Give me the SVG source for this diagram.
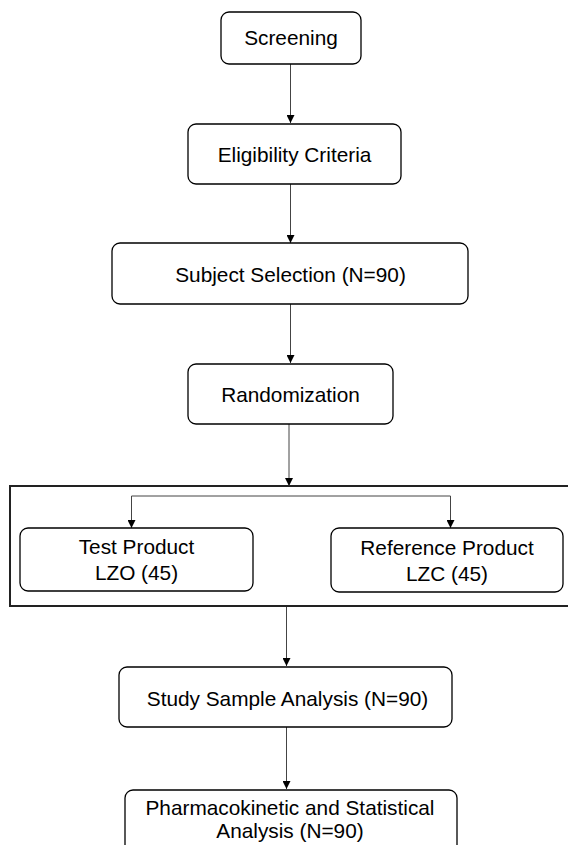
<svg xmlns="http://www.w3.org/2000/svg" width="568" height="845" viewBox="0 0 568 845">
<defs>
<style>
.box{fill:#fff;stroke:#000;stroke-width:1.3}
.lbl{font-family:"Liberation Sans",Arial,sans-serif;font-size:20.8px;fill:#000;text-anchor:middle}
.con{fill:none;stroke:#444;stroke-width:1}
</style>
<marker id="ah" viewBox="0 0 10 10" refX="10" refY="5" markerWidth="8" markerHeight="8" markerUnits="userSpaceOnUse" orient="auto">
<path d="M0,0 L10,5 L0,10 Z" fill="#000"/>
</marker>
</defs>
<rect width="568" height="845" fill="#fff"/>
<g id="container"><rect x="10" y="486" width="562" height="120" fill="none" stroke="#222" stroke-width="2"/></g>
<g id="connectors">
<line class="con" x1="290.5" y1="64" x2="290.5" y2="123" marker-end="url(#ah)"/>
<line class="con" x1="290.5" y1="184" x2="290.5" y2="243" marker-end="url(#ah)"/>
<line class="con" x1="290.5" y1="304" x2="290.5" y2="363" marker-end="url(#ah)"/>
<line class="con" x1="289" y1="424" x2="289" y2="486" marker-end="url(#ah)"/>
<polyline class="con" points="131.5,528 131.5,496 450.5,496 450.5,528"/>
<line class="con" x1="131.5" y1="520" x2="131.5" y2="528" marker-end="url(#ah)"/>
<line class="con" x1="450.5" y1="520" x2="450.5" y2="528" marker-end="url(#ah)"/>
<line class="con" x1="286.5" y1="607" x2="286.5" y2="666" marker-end="url(#ah)"/>
<line class="con" x1="286.5" y1="727" x2="286.5" y2="789" marker-end="url(#ah)"/>
</g>
<g id="screening"><rect class="box" x="221" y="12" width="140" height="52" rx="8"/><text class="lbl" x="291" y="45">Screening</text></g>
<g id="eligibility"><rect class="box" x="188" y="124" width="213" height="60" rx="8"/><text class="lbl" x="294.5" y="162">Eligibility Criteria</text></g>
<g id="selection"><rect class="box" x="112" y="243" width="356" height="61" rx="8"/><text class="lbl" x="290.5" y="282">Subject Selection (N=90)</text></g>
<g id="randomization"><rect class="box" x="188" y="364" width="205" height="60" rx="8"/><text class="lbl" x="290.5" y="402">Randomization</text></g>
<g id="test"><rect class="box" x="20" y="528" width="233" height="63" rx="8"/><text class="lbl" x="136.5" y="554">Test Product</text><text class="lbl" x="136.5" y="580">LZO (45)</text></g>
<g id="reference"><rect class="box" x="331" y="528" width="232" height="64" rx="8"/><text class="lbl" x="447" y="555">Reference Product</text><text class="lbl" x="447" y="581">LZC (45)</text></g>
<g id="sample"><rect class="box" x="119" y="667" width="333" height="60" rx="8"/><text class="lbl" x="287.5" y="706">Study Sample Analysis (N=90)</text></g>
<g id="pk"><rect class="box" x="125" y="790" width="332" height="70" rx="8"/><text class="lbl" x="290" y="815">Pharmacokinetic and Statistical</text><text class="lbl" x="290" y="838">Analysis (N=90)</text></g>
</svg>
